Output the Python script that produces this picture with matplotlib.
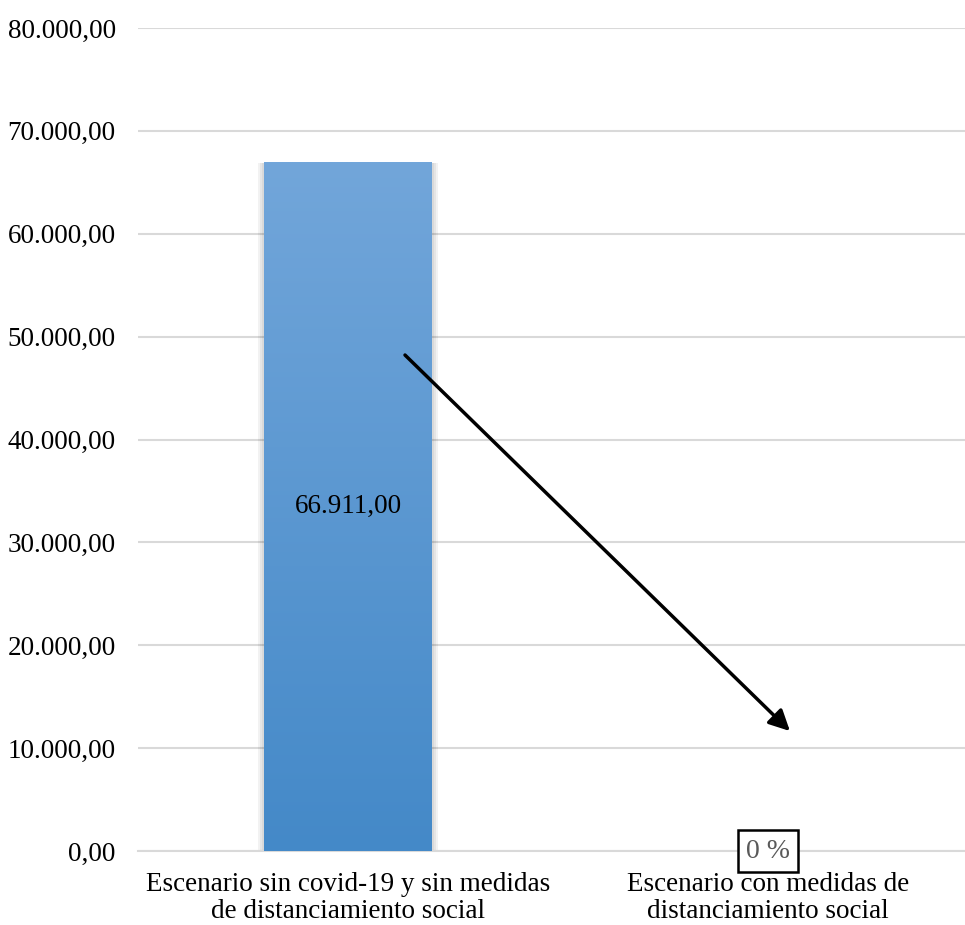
import numpy as np
import matplotlib.pyplot as plt
from matplotlib.colors import LinearSegmentedColormap

categories = ["Escenario sin covid-19 y sin medidas\nde distanciamiento social",
              "Escenario con medidas de\ndistanciamiento social"]
values = [66911.00, 0]
bar_label = "66.911,00"
zero_label = "0 %"
yticks = [0, 10000, 20000, 30000, 40000, 50000, 60000, 70000, 80000]

plt.rcParams['font.family'] = ['Liberation Serif', 'DejaVu Serif']

fig = plt.figure(figsize=(9.65, 9.25), dpi=100)
ax = fig.add_axes([138 / 965, 1 - 851 / 925, 840 / 965, (851 - 28) / 925])

x = np.arange(len(categories))
width = 0.40
bars = ax.bar(x, values, width=width, color="none", edgecolor="none", zorder=3)

# gradient fill with a soft shadow
cmap = LinearSegmentedColormap.from_list("blu", ["#4489C8", "#72A6DA"])
grad = np.linspace(0, 1, 256).reshape(-1, 1)
for b in bars:
    h = b.get_height()
    if h <= 0:
        continue
    x0 = b.get_x()
    for i in range(3):
        d = 0.005 * (i + 1)
        ax.bar(x0 + width / 2, h + 250 * (i + 1), width=width + 2 * d,
               bottom=-250 * (i + 1), color="black", alpha=0.05, zorder=2)
    ax.imshow(grad, cmap=cmap, origin="lower", aspect="auto",
              extent=[x0, x0 + width, 0, h], zorder=3)

ax.text(x[0], values[0] / 2, bar_label, ha="center", va="center", fontsize=19.5, zorder=5)
ax.text(x[1], 0, zero_label, ha="center", va="center", fontsize=20, color="#595959",
        bbox=dict(boxstyle="square,pad=0.3", fc="white", ec="black", lw=1.8), zorder=5)

ax.annotate("", xy=(1.057, 11470), xytext=(0.131, 48400),
            arrowprops=dict(arrowstyle="-|>,head_length=0.5,head_width=0.25",
                            color="black", lw=2.5, mutation_scale=25),
            zorder=6)

ax.set_xlim(-0.5, 1.5)
ax.set_ylim(0, 80000)
ax.set_yticks(yticks)
ax.set_yticklabels([f"{v:,.2f}".replace(",", "X").replace(".", ",").replace("X", ".") for v in yticks],
                   fontsize=19.5)
ax.set_xticks(x)
ax.set_xticklabels(categories, fontsize=19.5, linespacing=1.1)
ax.tick_params(axis="y", length=0, pad=16)
ax.tick_params(axis="x", length=0, pad=15)
ax.grid(axis="y", color="#D9D9D9", lw=1.5, zorder=0)
for s in ["top", "right", "left"]:
    ax.spines[s].set_visible(False)
ax.spines["bottom"].set_color("#D9D9D9")
ax.spines["bottom"].set_linewidth(1.5)
ax.set_axisbelow(True)

fig.savefig("out.png", dpi=100)
